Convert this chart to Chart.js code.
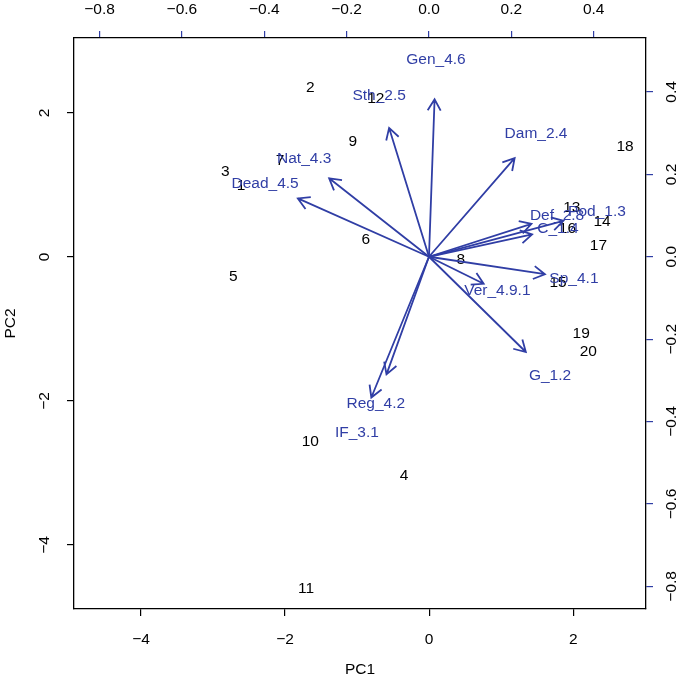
<!DOCTYPE html>
<html>
<head>
<meta charset="utf-8">
<script src="https://cdn.jsdelivr.net/npm/chart.js@4"></script>
<style>
  html, body { margin: 0; padding: 0; background: #fff; }
  #wrap { width: 685px; height: 687px; }
</style>
</head>
<body>
<div id="wrap"><canvas id="biplot"></canvas></div>
<script>
// PCA biplot: observation scores (PC1/PC2) plus variable loadings as arrows.

const obsLabels = ['1', '2', '3', '4', '5', '6', '7', '8', '9', '10',
    '11', '12', '13', '14', '15', '16', '17', '18', '19', '20'];
const pc1 = [-2.61, -1.65, -2.83, -0.35, -2.72, -0.88, -2.07, 0.44, -1.06, -1.65,
    -1.71, -0.74, 1.98, 2.40, 1.79, 1.92, 2.35, 2.72, 2.11, 2.21];
const pc2 = [0.99, 2.35, 1.18, -3.04, -0.28, 0.24, 1.33, -0.04, 1.60, -2.56,
    -4.61, 2.19, 0.68, 0.49, -0.36, 0.39, 0.15, 1.53, -1.06, -1.31];

const varNames = ['Gen_4.6', 'Sth_2.5', 'Dam_2.4', 'Nat_4.3', 'Dead_4.5', 'Def_2.8',
    'Pod_1.3', 'C_1.4', 'Sp_4.1', 'Ver_4.9.1', 'G_1.2', 'Reg_4.2', 'IF_3.1'];
const load1 = [0.017, -0.121, 0.260, -0.303, -0.398, 0.311, 0.408, 0.313, 0.352, 0.166, 0.294, -0.129, -0.175];
const load2 = [0.478, 0.391, 0.299, 0.238, 0.177, 0.100, 0.109, 0.068, -0.053, -0.082, -0.289, -0.357, -0.427];

const xTicks = [-4, -2, 0, 2];
const yTicks = [-4, -2, 0, 2];
const x2Ticks = [-0.8, -0.6, -0.4, -0.2, 0, 0.2, 0.4];
const y2Ticks = [-0.8, -0.6, -0.4, -0.2, 0, 0.2, 0.4];

const BLUE = 'rgb(48, 62, 165)';
const FONT = '15.5px "Liberation Sans", Arial, sans-serif';
const ARROW_SCALE = 0.8; // arrows drawn at 0.8 of loading, labels at loading

const fmtMain = (v) => String(v).replace('-', '\u2212');
const fmtLoad = (v) => v.toFixed(1).replace('-', '\u2212');

function axisCfg(position, min, max, ticks, size, tickColor) {
    return {
        type: 'linear',
        position,
        min,
        max,
        afterBuildTicks: (s) => { s.ticks = ticks.map((v) => ({ value: v })); },
        afterFit: (s) => {
            if (position === 'top' || position === 'bottom') s.height = size;
            else s.width = size;
        },
        ticks: { display: false },
        grid: { drawOnChartArea: false, drawTicks: true, tickLength: 7, color: tickColor, tickColor, lineWidth: 1.2 },
        border: { display: true, color: '#000', width: 1.3 },
    };
}

const biplotPlugin = {
    id: 'biplot',
    afterDatasetsDraw(chart) {
        const ctx = chart.ctx;
        const { x2, y2 } = chart.scales;
        ctx.save();
        ctx.font = FONT;
        ctx.textAlign = 'center';
        ctx.textBaseline = 'middle';

        // observation numbers
        ctx.fillStyle = '#000';
        chart.getDatasetMeta(0).data.forEach((pt, i) => {
            ctx.fillText(obsLabels[i], pt.x, pt.y);
        });

        // loading arrows
        const ox = x2.getPixelForValue(0);
        const oy = y2.getPixelForValue(0);
        ctx.strokeStyle = BLUE;
        ctx.fillStyle = BLUE;
        ctx.lineWidth = 1.8;
        chart.getDatasetMeta(1).data.forEach((pt, i) => {
            const tx = x2.getPixelForValue(load1[i] * ARROW_SCALE);
            const ty = y2.getPixelForValue(load2[i] * ARROW_SCALE);
            const ang = Math.atan2(ty - oy, tx - ox);
            const head = 13;
            ctx.beginPath();
            ctx.moveTo(ox, oy);
            ctx.lineTo(tx, ty);
            ctx.moveTo(tx - head * Math.cos(ang - Math.PI / 6), ty - head * Math.sin(ang - Math.PI / 6));
            ctx.lineTo(tx, ty);
            ctx.lineTo(tx - head * Math.cos(ang + Math.PI / 6), ty - head * Math.sin(ang + Math.PI / 6));
            ctx.stroke();
            ctx.fillText(varNames[i], pt.x, pt.y);
        });
        ctx.restore();
    },
    afterDraw(chart) {
        const ctx = chart.ctx;
        const { x, y, x2, y2 } = chart.scales;
        const area = chart.chartArea;
        ctx.save();
        ctx.font = FONT;
        ctx.fillStyle = '#000';
        ctx.textAlign = 'center';
        ctx.textBaseline = 'middle';

        xTicks.forEach((v) => ctx.fillText(fmtMain(v), x.getPixelForValue(v), area.bottom + 31));
        x2Ticks.forEach((v) => ctx.fillText(fmtLoad(v), x2.getPixelForValue(v), area.top - 28));

        const rotated = (txt, px, py) => {
            ctx.save();
            ctx.translate(px, py);
            ctx.rotate(-Math.PI / 2);
            ctx.fillText(txt, 0, 0);
            ctx.restore();
        };
        yTicks.forEach((v) => rotated(fmtMain(v), area.left - 29, y.getPixelForValue(v)));
        y2Ticks.forEach((v) => rotated(fmtLoad(v), area.right + 26, y2.getPixelForValue(v)));

        ctx.fillText('PC1', (area.left + area.right) / 2, area.bottom + 61);
        rotated('PC2', area.left - 63, (area.top + area.bottom) / 2);
        ctx.restore();
    },
};

new Chart(document.getElementById('biplot').getContext('2d'), {
    type: 'scatter',
    data: {
        datasets: [
            {
                label: 'scores',
                data: pc1.map((v, i) => ({ x: v, y: pc2[i] })),
                xAxisID: 'x',
                yAxisID: 'y',
                pointRadius: 0,
            },
            {
                label: 'loadings',
                data: load1.map((v, i) => ({ x: v, y: load2[i] })),
                xAxisID: 'x2',
                yAxisID: 'y2',
                pointRadius: 0,
            },
        ],
    },
    options: {
        responsive: true,
        maintainAspectRatio: false,
        animation: false,
        layout: { padding: 0 },
        plugins: { legend: { display: false }, tooltip: { enabled: false } },
        scales: {
            x: axisCfg('bottom', -4.93, 3.01, xTicks, 78, '#000'),
            y: axisCfg('left', -4.89, 3.04, yTicks, 74, '#000'),
            x2: axisCfg('top', -0.862, 0.527, x2Ticks, 38, BLUE),
            y2: axisCfg('right', -0.855, 0.531, y2Ticks, 39, BLUE),
        },
    },
    plugins: [biplotPlugin],
});
</script>
</body>
</html>
